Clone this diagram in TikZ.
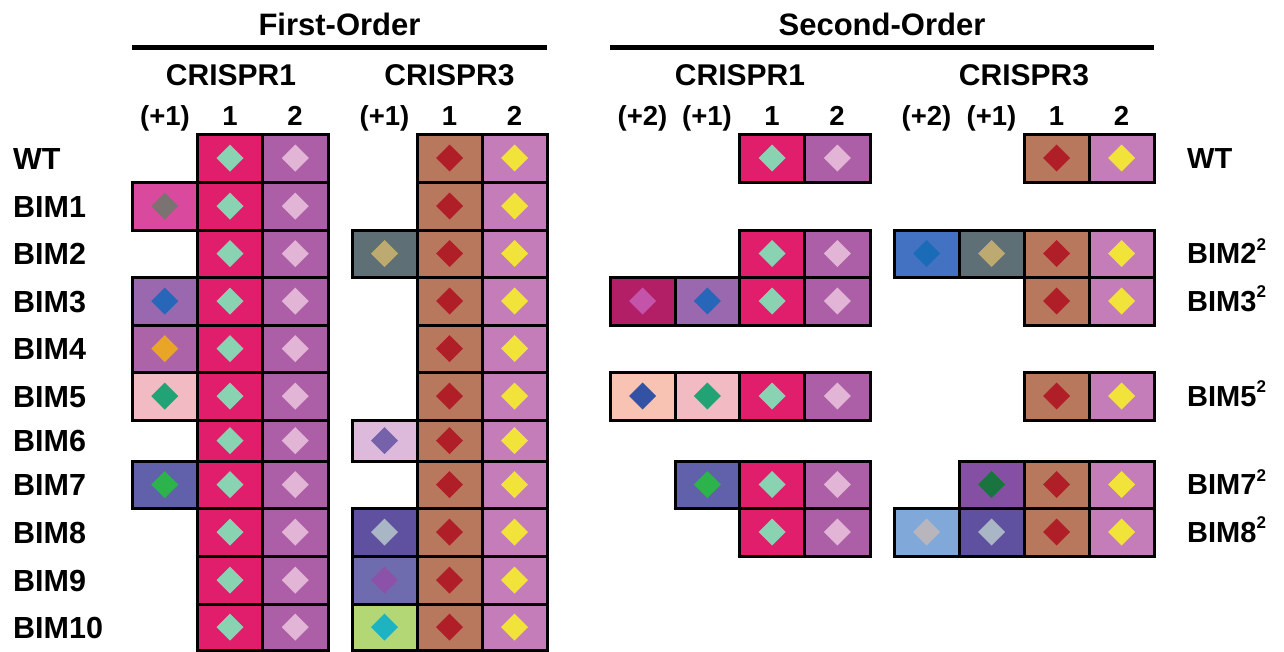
\documentclass[tikz,border=0pt]{standalone}
\usepackage{fontspec}
\setmainfont{Liberation Sans}
\definecolor{cA}{HTML}{E01E6C}\definecolor{dA}{HTML}{8AD3B2}
\definecolor{cB}{HTML}{AC5FA6}\definecolor{dB}{HTML}{E2B4D6}
\definecolor{cC}{HTML}{B8785E}\definecolor{dC}{HTML}{B01F27}
\definecolor{cD}{HTML}{C47DB9}\definecolor{dD}{HTML}{F2E33A}
\definecolor{cBa}{HTML}{D94A9E}\definecolor{dBa}{HTML}{7B7372}
\definecolor{cBb}{HTML}{5F6F76}\definecolor{dBb}{HTML}{BDAA70}
\definecolor{cBc}{HTML}{9A68AF}\definecolor{dBc}{HTML}{2766B9}
\definecolor{cBd}{HTML}{AD63A8}\definecolor{dBd}{HTML}{E9A626}
\definecolor{cBe}{HTML}{F2BAC2}\definecolor{dBe}{HTML}{22A375}
\definecolor{cBf}{HTML}{DDBADB}\definecolor{dBf}{HTML}{7562AB}
\definecolor{cBg}{HTML}{6161AB}\definecolor{dBg}{HTML}{2CB34B}
\definecolor{cBh}{HTML}{5F50A0}\definecolor{dBh}{HTML}{A9B6C6}
\definecolor{cBi}{HTML}{6E6CAF}\definecolor{dBi}{HTML}{8C52A9}
\definecolor{cBj}{HTML}{B3D774}\definecolor{dBj}{HTML}{1EB3C1}
\definecolor{cSb}{HTML}{4472C2}\definecolor{dSb}{HTML}{1B6CB8}
\definecolor{cSc}{HTML}{B21F66}\definecolor{dSc}{HTML}{C454AA}
\definecolor{cSe}{HTML}{F8C3B2}\definecolor{dSe}{HTML}{3352A3}
\definecolor{cSg}{HTML}{8550A3}\definecolor{dSg}{HTML}{1B7340}
\definecolor{cSh}{HTML}{80A9DA}\definecolor{dSh}{HTML}{B9B5BD}
% cell: x1 x2 y1 y2 fill diamond
\newcommand\mkcell[6]{%
  \filldraw[cellline, fill=#5] (#1,#3) rectangle (#2,#4);
  \fill[#6] ({(#1+#2)/2},{(#3+#4)/2-13.5}) -- ++(13.5,13.5) -- ++(-13.5,13.5) -- ++(-13.5,-13.5) -- cycle;}
\newcommand\fobase[2]{%
  \mkcell{197.5}{262.5}{#1}{#2}{cA}{dA}\mkcell{262.5}{328}{#1}{#2}{cB}{dB}%
  \mkcell{417}{482}{#1}{#2}{cC}{dC}\mkcell{482}{547}{#1}{#2}{cD}{dD}}
\newcommand\soone[2]{%
  \mkcell{739.5}{804.5}{#1}{#2}{cA}{dA}\mkcell{804.5}{870}{#1}{#2}{cB}{dB}}
\newcommand\sothree[2]{%
  \mkcell{1024}{1089}{#1}{#2}{cC}{dC}\mkcell{1089}{1154}{#1}{#2}{cD}{dD}}
\newcommand\sq{\raisebox{13.5pt}{\fontsize{17}{17}\selectfont 2}}
\begin{document}
\begin{tikzpicture}[x=1pt,y=-1pt,
  cellline/.style={draw=black, line width=3pt},
  rule/.style={line width=5pt, black},
  title/.style={inner sep=0pt, anchor=base, font=\fontsize{31}{31}\selectfont\bfseries},
  crispr/.style={inner sep=0pt, anchor=base, font=\fontsize{30}{30}\selectfont\bfseries},
  colhead/.style={inner sep=0pt, anchor=base, font=\fontsize{27.5}{27.5}\selectfont\bfseries},
  rowlab/.style={inner sep=0pt, anchor=base west, font=\fontsize{30.5}{30.5}\selectfont\bfseries},
  rightlab/.style={inner sep=0pt, anchor=base west, font=\fontsize{29}{29}\selectfont\bfseries}]
\useasboundingbox (0,0) rectangle (1284,651);
\fill[white] (0,0) rectangle (1284,651);
% headers
\node[title] (fo) at (339.5,35) {First-Order};
\node[title] (so) at (882,35) {Second-Order};
\coordinate (foL) at (132,47); \coordinate (foR) at (547,47);
\coordinate (soL) at (610,47); \coordinate (soR) at (1154,47);
\draw[rule] (foL) -- (foR);
\draw[rule] (soL) -- (soR);
\node[crispr] (foc1) at (231,85) {CRISPR1};
\node[crispr] (foc3) at (449.5,85) {CRISPR3};
\node[crispr] (soc1) at (740,85) {CRISPR1};
\node[crispr] (soc3) at (1024,85) {CRISPR3};
% column headings
\node[colhead] (h1) at (165,125) {(+1)};
\node[colhead] (h2) at (230,125) {1};
\node[colhead] (h3) at (295,125) {2};
\node[colhead] (h4) at (384.5,125) {(+1)};
\node[colhead] (h5) at (449.5,125) {1};
\node[colhead] (h6) at (514.5,125) {2};
\node[colhead] (h7) at (642.5,125) {(+2)};
\node[colhead] (h8) at (707,125) {(+1)};
\node[colhead] (h9) at (772,125) {1};
\node[colhead] (h10) at (837,125) {2};
\node[colhead] (h11) at (926.5,125) {(+2)};
\node[colhead] (h12) at (991.5,125) {(+1)};
\node[colhead] (h13) at (1056.5,125) {1};
\node[colhead] (h14) at (1121.5,125) {2};
% first-order rows
\fobase{134}{182}
\fobase{182}{230}\mkcell{132}{197.5}{182}{230}{cBa}{dBa}
\fobase{230}{277}\mkcell{352}{417}{230}{277}{cBb}{dBb}
\fobase{277}{325}\mkcell{132}{197.5}{277}{325}{cBc}{dBc}
\fobase{325}{372}\mkcell{132}{197.5}{325}{372}{cBd}{dBd}
\fobase{372}{420}\mkcell{132}{197.5}{372}{420}{cBe}{dBe}
\fobase{420}{461}\mkcell{352}{417}{420}{461}{cBf}{dBf}
\fobase{461}{508}\mkcell{132}{197.5}{461}{508}{cBg}{dBg}
\fobase{508}{556}\mkcell{352}{417}{508}{556}{cBh}{dBh}
\fobase{556}{604}\mkcell{352}{417}{556}{604}{cBi}{dBi}
\fobase{604}{650}\mkcell{352}{417}{604}{650}{cBj}{dBj}
% row labels
\node[rowlab] (lWT) at (13,169) {WT};
\node[rowlab] (l1) at (13,217) {BIM1};
\node[rowlab] (l2) at (13,264.5) {BIM2};
\node[rowlab] (l3) at (13,312) {BIM3};
\node[rowlab] (l4) at (13,359.5) {BIM4};
\node[rowlab] (l5) at (13,407) {BIM5};
\node[rowlab] (l6) at (13,451.5) {BIM6};
\node[rowlab] (l7) at (13,495.5) {BIM7};
\node[rowlab] (l8) at (13,543) {BIM8};
\node[rowlab] (l9) at (13,591) {BIM9};
\node[rowlab] (l10) at (13,638.5) {BIM10};
% second-order rows
\soone{134}{182}\sothree{134}{182}
\soone{230}{277}\sothree{230}{277}
\mkcell{894}{959}{230}{277}{cSb}{dSb}\mkcell{959}{1024}{230}{277}{cBb}{dBb}
\soone{277}{325}\sothree{277}{325}
\mkcell{610}{675}{277}{325}{cSc}{dSc}\mkcell{675}{739.5}{277}{325}{cBc}{dBc}
\soone{372}{420}\sothree{372}{420}
\mkcell{610}{675}{372}{420}{cSe}{dSe}\mkcell{675}{739.5}{372}{420}{cBe}{dBe}
\soone{461}{508}\sothree{461}{508}
\mkcell{675}{739.5}{461}{508}{cBg}{dBg}\mkcell{959}{1024}{461}{508}{cSg}{dSg}
\soone{508}{556}\sothree{508}{556}
\mkcell{894}{959}{508}{556}{cSh}{dSh}\mkcell{959}{1024}{508}{556}{cBh}{dBh}
% right labels
\node[rightlab] (rWT) at (1187,168) {WT};
\node[rightlab] (r2) at (1187,263.5) {BIM2\sq};
\node[rightlab] (r3) at (1187,311) {BIM3\sq};
\node[rightlab] (r5) at (1187,406) {BIM5\sq};
\node[rightlab] (r7) at (1187,494.5) {BIM7\sq};
\node[rightlab] (r8) at (1187,542) {BIM8\sq};
\end{tikzpicture}
\end{document}
